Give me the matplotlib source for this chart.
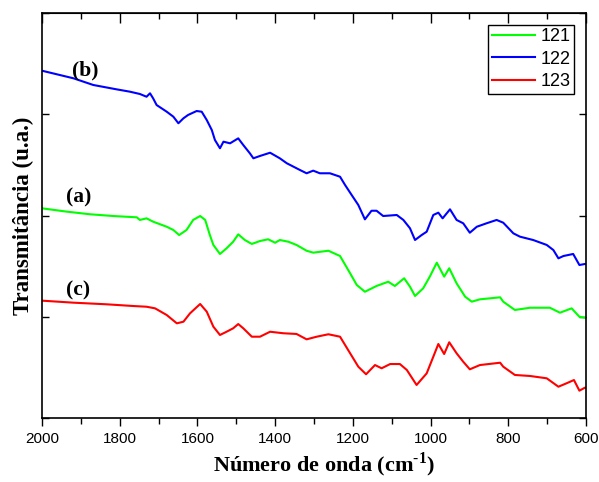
import matplotlib
matplotlib.use('Agg')
import matplotlib.pyplot as plt

plt.rcParams['mathtext.fontset'] = 'custom'
plt.rcParams['mathtext.rm'] = 'Liberation Serif'
plt.rcParams['mathtext.bf'] = 'Liberation Serif:bold'

# espectros FTIR (transmitância em unidades arbitrárias)
x_122 = [2000, 1919, 1868, 1808, 1774, 1748, 1731, 1722, 1714, 1705, 1679, 1662, 1649, 1636,
         1624, 1602, 1589, 1576, 1563, 1555, 1542, 1533, 1516, 1495, 1482, 1465, 1456, 1439,
         1413, 1388, 1370, 1336, 1319, 1302, 1285, 1259, 1233, 1220, 1203, 1186, 1169, 1152,
         1139, 1122, 1087, 1070, 1053, 1040, 1023, 1010, 993, 980, 969, 950, 933, 916, 899,
         881, 856, 830, 813, 787, 770, 736, 701, 684, 671, 658, 633, 617, 603, 600]
y_122 = [3.43, 3.355, 3.289, 3.246, 3.223, 3.200, 3.173, 3.207, 3.157, 3.091, 3.025, 2.976,
         2.911, 2.960, 2.993, 3.032, 3.025, 2.943, 2.844, 2.746, 2.664, 2.729, 2.713, 2.762,
         2.696, 2.614, 2.565, 2.588, 2.620, 2.565, 2.516, 2.449, 2.417, 2.443, 2.417, 2.417,
         2.383, 2.301, 2.202, 2.104, 1.962, 2.047, 2.047, 1.995, 2.005, 1.956, 1.874, 1.758,
         1.807, 1.840, 2.005, 2.028, 1.972, 2.061, 1.956, 1.923, 1.830, 1.889, 1.923, 1.956,
         1.929, 1.824, 1.791, 1.758, 1.709, 1.659, 1.577, 1.600, 1.620, 1.511, 1.521, 1.52]

x_121 = [2000, 1936, 1876, 1817, 1756, 1748, 1731, 1714, 1679, 1662, 1647, 1628, 1611, 1593,
         1580, 1568, 1559, 1542, 1525, 1508, 1495, 1478, 1460, 1439, 1418, 1400, 1388, 1366,
         1345, 1319, 1302, 1263, 1233, 1207, 1190, 1169, 1139, 1109, 1092, 1068, 1053, 1040,
         1019, 1002, 984, 965, 952, 933, 911, 894, 873, 821, 813, 783, 744, 693, 667, 637,
         617, 603, 600]
y_121 = [2.071, 2.038, 2.012, 1.995, 1.982, 1.956, 1.972, 1.939, 1.889, 1.857, 1.807, 1.857,
         1.956, 1.995, 1.956, 1.807, 1.709, 1.620, 1.676, 1.741, 1.814, 1.758, 1.719, 1.748,
         1.765, 1.731, 1.758, 1.741, 1.709, 1.652, 1.633, 1.652, 1.600, 1.429, 1.314, 1.247,
         1.304, 1.346, 1.304, 1.380, 1.297, 1.205, 1.281, 1.396, 1.534, 1.396, 1.479, 1.330,
         1.198, 1.149, 1.172, 1.192, 1.149, 1.067, 1.089, 1.089, 1.040, 1.083, 1.000, 0.991, 0.99]

x_123 = [2000, 1919, 1834, 1765, 1731, 1709, 1679, 1653, 1636, 1619, 1593, 1576, 1559, 1542,
         1525, 1508, 1495, 1482, 1460, 1439, 1413, 1379, 1345, 1319, 1293, 1263, 1233, 1207,
         1186, 1166, 1143, 1126, 1104, 1079, 1061, 1036, 1010, 993, 980, 965, 952, 933, 916,
         899, 873, 821, 813, 783, 744, 701, 671, 650, 631, 617, 603, 600]
y_123 = [1.159, 1.139, 1.123, 1.106, 1.099, 1.083, 1.017, 0.935, 0.951, 1.034, 1.126, 1.050,
         0.902, 0.820, 0.852, 0.886, 0.928, 0.886, 0.803, 0.803, 0.852, 0.837, 0.830, 0.777,
         0.803, 0.827, 0.803, 0.639, 0.507, 0.432, 0.523, 0.491, 0.533, 0.533, 0.474, 0.326,
         0.441, 0.605, 0.731, 0.632, 0.748, 0.639, 0.556, 0.481, 0.523, 0.546, 0.507, 0.425,
         0.415, 0.392, 0.309, 0.343, 0.375, 0.270, 0.299, 0.30]

fig = plt.figure(figsize=(5.99, 4.82), dpi=100)
ax = fig.add_axes([42/599, 64/482, 544/599, 405/482])

ax.plot(x_121, y_121, color='#00ff00', lw=1.5, label='121')
ax.plot(x_122, y_122, color='#0000ff', lw=1.5, label='122')
ax.plot(x_123, y_123, color='#ff0000', lw=1.5, label='123')

ax.set_xlim(2000, 600)
ax.set_ylim(0, 4)
ax.set_xticks(range(2000, 599, -200))
ax.set_xticks(range(1900, 600, -200), minor=True)
ax.set_yticks([0, 1, 2, 3, 4])
ax.set_yticklabels([])
ax.tick_params(axis='x', which='major', direction='out', length=6, width=1, labelsize=11, pad=4)
ax.tick_params(axis='x', which='minor', direction='out', length=4, width=1)
ax.tick_params(axis='y', direction='in', length=5, width=1, left=True, right=True)
for lbl in ax.get_xticklabels():
    lbl.set_fontfamily('Liberation Sans')
for s in ax.spines.values():
    s.set_linewidth(1.2)

top = ax.secondary_xaxis('top')
top.set_xticks(range(2000, 599, -200))
top.set_xticks(range(1900, 600, -200), minor=True)
top.tick_params(which='major', direction='in', length=7, width=1, labeltop=False)
top.tick_params(which='minor', direction='in', length=4, width=1)

ax.set_xlabel('Número de onda (cm$^{\\mathbf{\u2010}\\mathbf{1}}$)', fontsize=16, fontweight='bold',
              fontfamily='Liberation Serif', labelpad=3)
ax.xaxis.label.set_x(0.5 + 10/544)
ax.set_ylabel('Transmitância (u.a.)', fontsize=16.5, fontweight='bold',
              fontfamily='Liberation Serif', labelpad=2)

for txt, xx, yy in [('(b)', 1889, 3.43), ('(a)', 1905, 2.18), ('(c)', 1907, 1.26)]:
    ax.text(xx, yy, txt, fontsize=15.5, fontweight='bold', fontfamily='Liberation Serif',
            ha='center', va='center')

leg = ax.legend(loc='upper right', prop={'family': 'Liberation Sans', 'size': 13},
                fancybox=False, edgecolor='black', framealpha=1, borderaxespad=0.65,
                handlelength=2.4, handletextpad=0.3, borderpad=0.2, labelspacing=0.3)
leg.get_frame().set_linewidth(1.0)

fig.savefig('out.png', dpi=100)
